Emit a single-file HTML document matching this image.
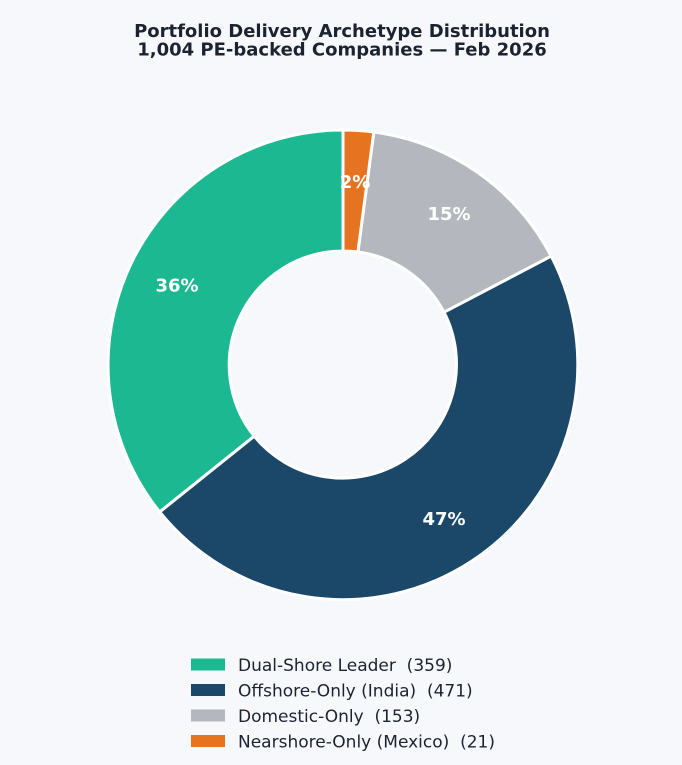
<!DOCTYPE html>
<html>
<head>
<meta charset="utf-8">
<style>
  html, body { margin:0; padding:0; background:#f7f8fc; }
  body { width:682px; height:765px; overflow:hidden; }
  svg { display:block; }
  .pre { white-space: pre; }
</style>
</head>
<body>
<svg width="682" height="765" viewBox="0 0 682 765" xmlns="http://www.w3.org/2000/svg">
  <rect x="0" y="0" width="682" height="765" fill="#f7f8fc"/>
  <g font-family="'DejaVu Sans', 'Liberation Sans', sans-serif" font-weight="bold" font-size="18" fill="#1c2330" text-anchor="middle">
    <text x="342" y="37">Portfolio Delivery Archetype Distribution</text>
    <text x="342" y="55.5">1,004 PE-backed Companies — Feb 2026</text>
  </g>
  <g stroke="#ffffff" stroke-width="3" stroke-linejoin="round">
    <path d="M 343,130 A 235 235 0 0 0 159.7,512.0 L 254.2,436.2 A 114 114 0 0 1 343,251 Z" fill="#1bb891"/>
    <path d="M 159.7,512.0 A 235 235 0 0 0 551.2,256.1 L 444.0,312.2 A 114 114 0 0 1 254.2,436.2 Z" fill="#1b4868"/>
    <path d="M 551.2,256.1 A 235 235 0 0 0 373.8,132.0 L 357.9,252.0 A 114 114 0 0 1 444.0,312.2 Z" fill="#b4b8be"/>
    <path d="M 373.8,132.0 A 235 235 0 0 0 343,130 L 343,251 A 114 114 0 0 1 357.9,252.0 Z" fill="#e5731f"/>
  </g>
  <g font-family="'DejaVu Sans', 'Liberation Sans', sans-serif" font-weight="bold" font-size="18" fill="#ffffff" text-anchor="middle">
    <text x="177" y="291.5">36%</text>
    <text x="444" y="525">47%</text>
    <text x="449" y="220">15%</text>
    <text x="355" y="188">2%</text>
  </g>
  <g>
    <rect x="191" y="658.5" width="34" height="12" fill="#1bb891"/>
    <rect x="191" y="684" width="34" height="12" fill="#1b4868"/>
    <rect x="191" y="709.5" width="34" height="12" fill="#b4b8be"/>
    <rect x="191" y="735" width="34" height="12" fill="#e5731f"/>
  </g>
  <g font-family="'DejaVu Sans', 'Liberation Sans', sans-serif" font-size="17" fill="#1c2330">
    <text class="pre" x="238" y="671">Dual-Shore Leader  (359)</text>
    <text class="pre" x="238" y="696.5">Offshore-Only (India)  (471)</text>
    <text class="pre" x="238" y="722">Domestic-Only  (153)</text>
    <text class="pre" x="238" y="747.5">Nearshore-Only (Mexico)  (21)</text>
  </g>
</svg>
</body>
</html>
